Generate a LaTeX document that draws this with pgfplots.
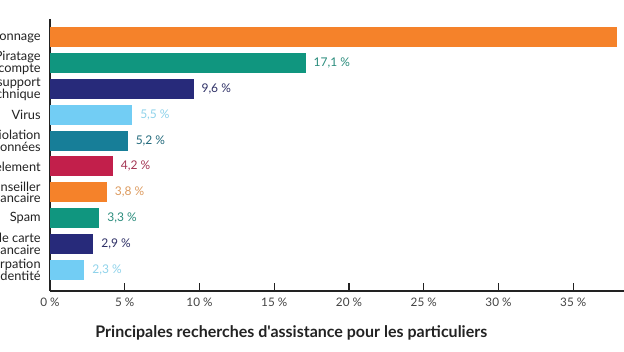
\documentclass[border=0pt]{standalone}
\usepackage{pgfplots}
\pgfplotsset{compat=1.18}
\usepackage{fontspec}
\setmainfont{Lato}[Ligatures=TeXOff]
\definecolor{cOrange}{HTML}{F5822A}
\definecolor{cTeal}{HTML}{10967F}
\definecolor{cNavy}{HTML}{272A7A}
\definecolor{cLight}{HTML}{72CDF4}
\definecolor{cDTeal}{HTML}{177E98}
\definecolor{cRed}{HTML}{C21F4B}
\definecolor{lOrange}{HTML}{DC9A5E}
\definecolor{lTeal}{HTML}{2A8C7C}
\definecolor{lNavy}{HTML}{2E3066}
\definecolor{lLight}{HTML}{8ED2EA}
\definecolor{lDTeal}{HTML}{236A7C}
\definecolor{lRed}{HTML}{A33452}
\definecolor{txt}{HTML}{222222}
\begin{document}
\begin{tikzpicture}
\useasboundingbox (-37.5pt,-45pt) rectangle (430.5pt,218.25pt);
\clip (-37.5pt,-45pt) rectangle (430.5pt,218.25pt);
\begin{axis}[
  at={(0,0)}, anchor=south west,
  scale only axis, width=448.5pt, height=204pt,
  xbar, bar width=0.77, bar shift=0pt,
  xmin=0, xmax=40,
  ymin=-0.695, ymax=9.81, y dir=reverse,
  axis lines*=left,
  axis line style={line width=0.8pt, color=txt},
  xtick={0,5,10,15,20,25,30,35},
  xticklabels={0 \%,5 \%,10 \%,15 \%,20 \%,25 \%,30 \%,35 \%},
  xticklabel style={font=\fontsize{8.8}{10}\selectfont, color=txt!85, yshift=-1.5pt},
  tick align=inside, major tick length=6pt,
  x tick style={line width=0.8pt, color=txt},
  ytick={0,1,2,3,4,5,6,7,8,9},
  yticklabels={Hameçonnage,Piratage\\de compte,Faux support\\technique,Virus,Violation\\de données,Harcèlement,Faux conseiller\\bancaire,Spam,Fraude de carte\\bancaire,Usurpation\\d'identité},
  yticklabel style={font=\fontsize{9.6}{8.9}\selectfont, align=right, color=txt, xshift=-3.5pt},
  y tick style={draw=none},
  nodes near coords={\pgfmathprintnumber[fixed,precision=1,fixed zerofill,use comma,assume math mode=true]{\pgfplotspointmeta} \%},
  point meta=x,
  every node near coord/.append style={font=\fontsize{9}{10}\selectfont, anchor=west, xshift=2.5pt},
]
\addplot[fill=cOrange, draw=none, nodes near coords style={color=lOrange}] coordinates {(37.9,0)};
\addplot[fill=cTeal, draw=none, nodes near coords style={color=lTeal}] coordinates {(17.1,1)};
\addplot[fill=cNavy, draw=none, nodes near coords style={color=lNavy}] coordinates {(9.6,2)};
\addplot[fill=cLight, draw=none, nodes near coords style={color=lLight}] coordinates {(5.5,3)};
\addplot[fill=cDTeal, draw=none, nodes near coords style={color=lDTeal}] coordinates {(5.2,4)};
\addplot[fill=cRed, draw=none, nodes near coords style={color=lRed}] coordinates {(4.2,5)};
\addplot[fill=cOrange, draw=none, nodes near coords style={color=lOrange}] coordinates {(3.8,6)};
\addplot[fill=cTeal, draw=none, nodes near coords style={color=lTeal}] coordinates {(3.3,7)};
\addplot[fill=cNavy, draw=none, nodes near coords style={color=lNavy}] coordinates {(2.9,8)};
\addplot[fill=cLight, draw=none, nodes near coords style={color=lLight}] coordinates {(2.3,9)};
\end{axis}
\node[font=\bfseries\fontsize{12}{14}\selectfont, color=txt] at (181pt,-31.5pt) {Principales recherches d'assistance pour les particuliers};
\end{tikzpicture}
\end{document}
